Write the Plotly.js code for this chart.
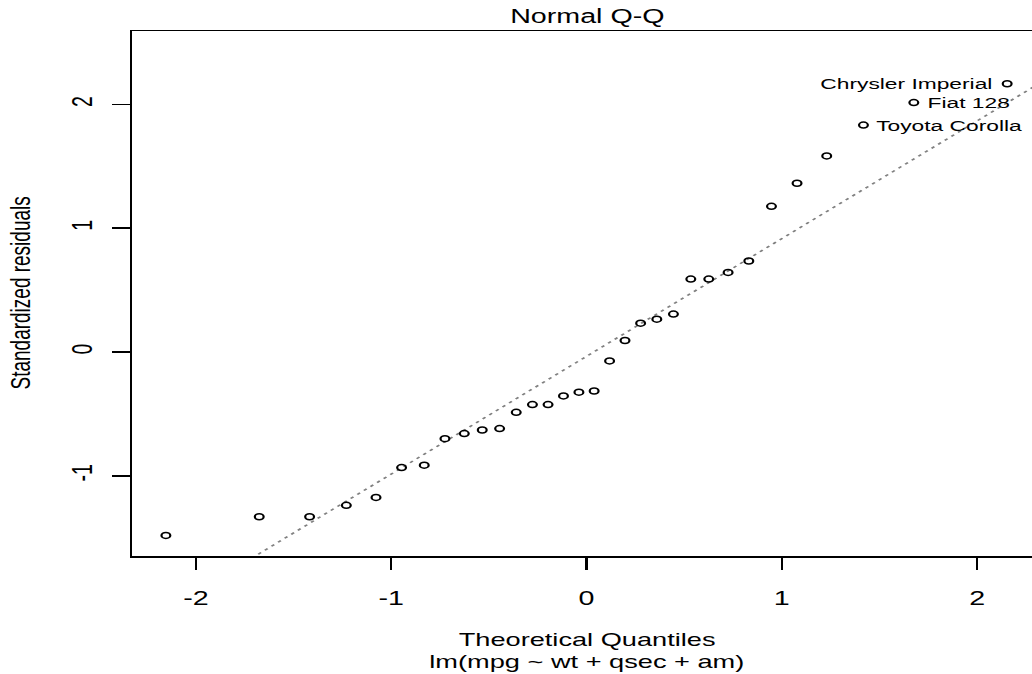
<!DOCTYPE html>
<html>
<head>
<meta charset="utf-8">
<script src="https://cdn.plot.ly/plotly-3.0.1.min.js"></script>
<style>
html,body{margin:0;padding:0;overflow:hidden;width:1032px;height:674px;background:#fff}
#wrap{width:712px;height:674px;transform:scaleX(1.47);transform-origin:0 0}
</style>
</head>
<body>
<div id="wrap"><div id="chart"></div></div>
<script>
// Theoretical quantiles (x) and standardized residuals (y), sorted
const theoretical = [-2.154,-1.676,-1.418,-1.230,-1.078,-0.947,-0.831,-0.725,-0.626,-0.534,-0.445,-0.360,-0.277,-0.197,-0.118,-0.039,
                     0.039,0.118,0.197,0.277,0.360,0.445,0.534,0.626,0.725,0.831,0.947,1.078,1.230,1.418,1.676,2.154];
const stdResid = [-1.482,-1.331,-1.331,-1.239,-1.175,-0.934,-0.914,-0.700,-0.659,-0.630,-0.619,-0.487,-0.425,-0.425,-0.355,-0.325,
                  -0.315,-0.072,0.093,0.233,0.265,0.306,0.589,0.589,0.643,0.735,1.177,1.363,1.584,1.833,2.015,2.167];
// Labelled points
const labelIdx = [29, 30, 31];
const labelNames = ["Toyota Corolla", "Fiat 128", "Chrysler Imperial"];
const labelSide = ["right", "right", "left"];
// Reference line (qqline)
const qqSlope = 0.951;
const qqIntercept = -0.035;
// Axis ticks
const xTicks = [-2, -1, 0, 1, 2];
const yTicks = [-1, 0, 1, 2];
const xRange = [-2.326, 2.326];
const yRange = [-1.648, 2.593];

const FONT = "Liberation Sans, Arial, Helvetica, sans-serif";

const lineX = [xRange[0] - 0.2, xRange[1] + 0.2];
const lineY = lineX.map(v => qqIntercept + qqSlope * v);

const traces = [
  {x: lineX, y: lineY, mode: "lines", type: "scatter",
   line: {color: "#808080", width: 1.5, dash: "2.5px,3.5px"}, hoverinfo: "skip", cliponaxis: true},
  {x: theoretical, y: stdResid, mode: "markers", type: "scatter",
   marker: {symbol: "circle-open", size: 6, color: "#000", line: {width: 1.5, color: "#000"}}, cliponaxis: false}
];

const annotations = labelIdx.map((idx, k) => ({
  x: theoretical[idx], y: stdResid[idx], xref: "x", yref: "y",
  text: labelNames[k], showarrow: false,
  xanchor: labelSide[k] === "left" ? "right" : "left", yanchor: "middle",
  xshift: labelSide[k] === "left" ? -8 : 7,
  font: {family: FONT, size: 15.5, color: "#000"}
}));
annotations.push(
  {x: 0.5, y: 1, xref: "paper", yref: "paper", text: "Normal Q-Q", showarrow: false,
   xanchor: "center", yanchor: "bottom", yshift: 2, font: {family: FONT, size: 19.5, color: "#000"}},
  {x: 0.5, y: 0, xref: "paper", yref: "paper", text: "Theoretical Quantiles", showarrow: false,
   xanchor: "center", yanchor: "top", yshift: -71, font: {family: FONT, size: 18.5, color: "#000"}},
  {x: 0.5, y: 0, xref: "paper", yref: "paper", text: "lm(mpg ~ wt + qsec + am)", showarrow: false,
   xanchor: "center", yanchor: "top", yshift: -93, font: {family: FONT, size: 18.5, color: "#000"}},
  {x: 0, y: 0.5, xref: "paper", yref: "paper", text: "Standardized residuals", showarrow: false,
   xanchor: "center", yanchor: "middle", xshift: -76, textangle: -90, font: {family: FONT, size: 19, color: "#000"}}
);

const layout = {
  width: 712, height: 674,
  margin: {l: 89.6, r: 4.3, t: 31, b: 118},
  paper_bgcolor: "#fff", plot_bgcolor: "#fff",
  showlegend: false,
  font: {family: FONT, size: 19.5, color: "#000"},
  xaxis: {range: xRange, tickvals: xTicks, ticktext: xTicks.map(String), showgrid: false, zeroline: false,
          showline: true, mirror: true, linecolor: "#000", linewidth: 1.5,
          ticks: "outside", ticklen: 12, tickwidth: 1.5, tickcolor: "#000",
          tickfont: {family: FONT, size: 19.5, color: "#000"}, ticklabelstandoff: 12},
  yaxis: {range: yRange, tickvals: yTicks, ticktext: yTicks.map(String), showgrid: false, zeroline: false,
          showline: true, mirror: true, linecolor: "#000", linewidth: 1.5,
          ticks: "outside", ticklen: 12, tickwidth: 1.5, tickcolor: "#000", tickangle: -90,
          tickfont: {family: FONT, size: 19.5, color: "#000"}, ticklabelstandoff: 6},
  annotations: annotations
};

Plotly.newPlot("chart", traces, layout, {staticPlot: true, displayModeBar: false});
</script>
</body>
</html>
